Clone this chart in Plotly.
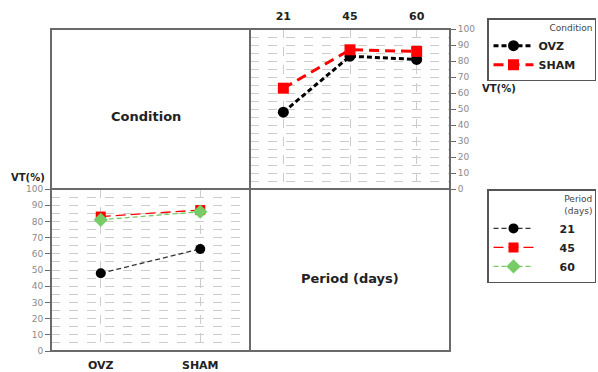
import plotly.graph_objects as go

W, H = 598, 372
periods = ["21", "45", "60"]
conditions = ["OVZ", "SHAM"]
ovz_by_period = [48, 83, 81]
sham_by_period = [63, 87, 86]
p21_by_cond = [48, 63]
p45_by_cond = [83, 87]
p60_by_cond = [81, 86]
yticks = [0, 10, 20, 30, 40, 50, 60, 70, 80, 90, 100]

def px(x):
    return x / W

def py(y):
    return 1 - y / H

FONT = "DejaVu Sans"
GRID = "#cccccc"
FRAME = "#6a6a6a"
PAD = "\u00a0" * 6
TAIL = "\u00a0" * 4

fig = go.Figure()

# top-right panel: VT vs period, by condition
fig.add_trace(go.Scatter(x=periods, y=ovz_by_period, name="<b>OVZ</b>" + TAIL, mode="lines+markers",
                         line=dict(color="black", width=3, dash="5px,3px"),
                         marker=dict(symbol="circle", size=11, color="black"),
                         xaxis="x", yaxis="y", legend="legend"))
fig.add_trace(go.Scatter(x=periods, y=sham_by_period, name="<b>SHAM</b>" + TAIL, mode="lines+markers",
                         line=dict(color="#ff0000", width=3, dash="10px,6px"),
                         marker=dict(symbol="square", size=11, color="#ff0000"),
                         xaxis="x", yaxis="y", legend="legend"))

# bottom-left panel: VT vs condition, by period
fig.add_trace(go.Scatter(x=conditions, y=p21_by_cond, name=PAD + "<b>21</b>" + TAIL, mode="lines+markers",
                         line=dict(color="#333333", width=1.3, dash="5px,3px"),
                         marker=dict(symbol="circle", size=10, color="black"),
                         xaxis="x2", yaxis="y2", legend="legend2"))
fig.add_trace(go.Scatter(x=conditions, y=p45_by_cond, name=PAD + "<b>45</b>" + TAIL, mode="lines+markers",
                         line=dict(color="#ff0000", width=1.3, dash="10px,5px"),
                         marker=dict(symbol="square", size=10, color="#ff0000"),
                         xaxis="x2", yaxis="y2", legend="legend2"))
fig.add_trace(go.Scatter(x=conditions, y=p60_by_cond, name=PAD + "<b>60</b>" + TAIL, mode="lines+markers",
                         line=dict(color="#77cc66", width=1.3, dash="5px,3px"),
                         marker=dict(symbol="diamond", size=11, color="#77cc66"),
                         xaxis="x2", yaxis="y2", legend="legend2"))

ygrid = dict(range=[0, 100], tickvals=yticks, showgrid=True, gridcolor=GRID, griddash="dash",
             gridwidth=1, zeroline=False, ticks="outside", ticklen=5, tickcolor=FRAME,
             tickfont=dict(family=FONT, size=9, color="#8a8a8a"), showline=False,
             minor=dict(dtick=5, tick0=0, showgrid=True, gridcolor=GRID, griddash="dash"),
             fixedrange=True, automargin=False)

fig.update_layout(
    width=W, height=H, margin=dict(l=0, r=0, t=0, b=0, autoexpand=False),
    paper_bgcolor="white", plot_bgcolor="white",
    font=dict(family=FONT),
    xaxis=dict(domain=[px(250), px(450)], anchor="y", side="top", type="category",
               range=[-0.5, 2.5], showgrid=True, gridcolor=GRID, griddash="dash",
               ticks="", ticklabelstandoff=6,
               tickfont=dict(family=FONT, size=11, color="#222222", weight="bold"),
               showline=False, zeroline=False, automargin=False),
    yaxis=dict(domain=[py(189), py(29)], anchor="x", side="right", **ygrid),
    xaxis2=dict(domain=[px(51), px(250)], anchor="y2", side="bottom", type="category",
                range=[-0.5, 1.5], showgrid=True, gridcolor=GRID, griddash="dash",
                ticks="", ticklabelstandoff=6,
                tickfont=dict(family=FONT, size=11, color="#222222", weight="bold"),
                showline=False, zeroline=False, automargin=False),
    yaxis2=dict(domain=[py(351), py(189)], anchor="x2", side="left", **ygrid),
    legend=dict(x=px(487), y=py(18), xanchor="left", yanchor="top",
                bgcolor="white", bordercolor="#555555", borderwidth=1.5,
                font=dict(family=FONT, size=11, color="#222222"),
                title=dict(text="Condition", side="top right",
                           font=dict(family=FONT, size=9, color="#444444")),
                itemwidth=40, tracegroupgap=0),
    legend2=dict(x=px(487), y=py(189), xanchor="left", yanchor="top",
                 bgcolor="white", bordercolor="#555555", borderwidth=1.5,
                 font=dict(family=FONT, size=11, color="#222222"),
                 title=dict(text="Period<br>(days)", side="top right",
                            font=dict(family=FONT, size=9, color="#444444")),
                 itemwidth=40, tracegroupgap=0),
    showlegend=True,
)

# frame and dividers
line = dict(color=FRAME, width=2)
fig.add_shape(type="rect", xref="paper", yref="paper", x0=px(51), x1=px(450), y0=py(351), y1=py(29), line=line)
fig.add_shape(type="line", xref="paper", yref="paper", x0=px(250), x1=px(250), y0=py(351), y1=py(29), line=line)
fig.add_shape(type="line", xref="paper", yref="paper", x0=px(51), x1=px(450), y0=py(189), y1=py(189), line=line)

ann = dict(xref="paper", yref="paper", showarrow=False, xanchor="center", yanchor="middle")
fig.add_annotation(text="<b>Condition</b>", x=px(146), y=py(117), font=dict(family=FONT, size=13, color="#222222"), **ann)
fig.add_annotation(text="<b>Period (days)</b>", x=px(350), y=py(278), font=dict(family=FONT, size=13, color="#222222"), **ann)
fig.add_annotation(text="<b>VT(%)</b>", x=px(499), y=py(88), font=dict(family=FONT, size=10, color="#222222"), **ann)
fig.add_annotation(text="<b>VT(%)</b>", x=px(28), y=py(177), font=dict(family=FONT, size=10, color="#222222"), **ann)

fig.write_html("out.html", config={"displayModeBar": False},
               post_script="document.body.style.margin='0';document.body.style.overflow='hidden';")
